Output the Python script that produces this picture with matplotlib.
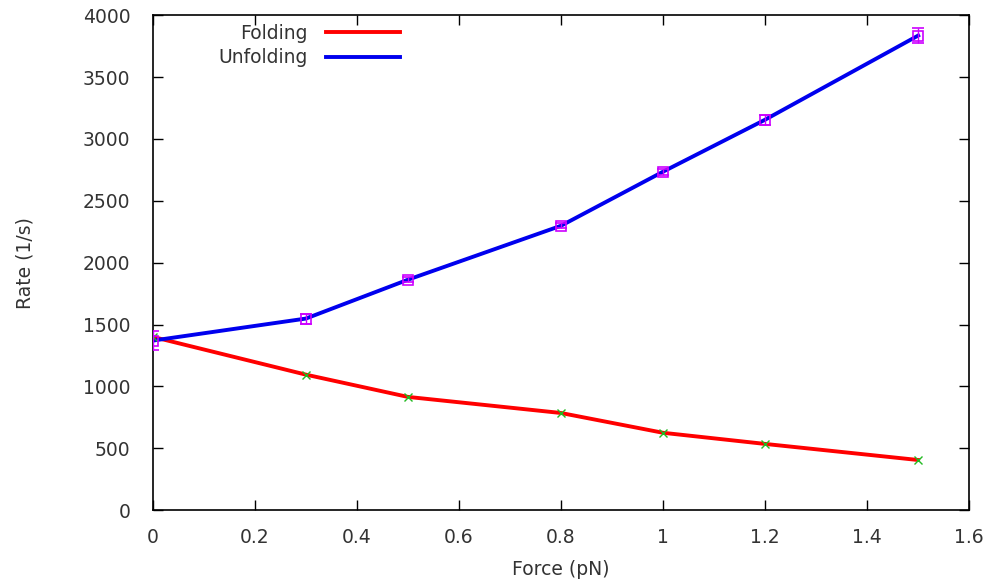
import numpy as np
import matplotlib.pyplot as plt

force = [0, 0.3, 0.5, 0.8, 1.0, 1.2, 1.5]
folding = [1400, 1095, 915, 785, 625, 535, 405]
unfolding = [1370, 1548, 1862, 2298, 2735, 3155, 3835]
unfolding_err = [80, 40, 20, 20, 25, 40, 60]

plt.rcParams['font.family'] = ['DejaVu Sans']
text_color = '#333333'
fs = 13.5

fig = plt.figure(figsize=(9.92, 5.83), dpi=100)
ax = fig.add_axes([0.154, 0.125, 0.823, 0.849])

ax.plot(force, folding, color='#ff0000', lw=2.8, label='Folding', zorder=2)
ax.plot(force, unfolding, color='#0000ee', lw=2.8, label='Unfolding', zorder=2)
ax.plot(force, folding, ls='none', marker='x', ms=6, mew=1, color='#22bb22', zorder=3)
ax.errorbar(force, unfolding, yerr=unfolding_err, fmt='s', ms=7, mfc='none',
            mec='#cc00ff', ecolor='#cc00ff', elinewidth=1, capsize=4, mew=1.2, zorder=3)

ax.set_xlim(0, 1.6)
ax.set_ylim(0, 4000)
ax.set_xticks(np.arange(0, 1.61, 0.2))
ax.set_xticklabels(['0', '0.2', '0.4', '0.6', '0.8', '1', '1.2', '1.4', '1.6'])
ax.set_yticks(np.arange(0, 4001, 500))
ax.tick_params(direction='in', top=True, right=True, length=7, width=1,
               labelsize=fs, labelcolor=text_color)
ax.tick_params(axis='y', pad=16)
ax.tick_params(axis='x', pad=13)
for s in ax.spines.values():
    s.set_linewidth(1.2)

ax.set_xlabel('Force (pN)', fontsize=fs, color=text_color)
ax.set_ylabel('Rate (1/s)', fontsize=fs, color=text_color)
ax.xaxis.set_label_coords(0.5, -0.1)
ax.yaxis.set_label_coords(-0.145, 0.5)

leg = ax.legend(loc='upper left', bbox_to_anchor=(0.08, 0.983), markerfirst=False,
                frameon=False, fontsize=fs, handlelength=3.95, handletextpad=1.0,
                labelspacing=0.3, borderpad=0, borderaxespad=0)
for t in leg.get_texts():
    t.set_color(text_color)
    t.set_ha('right')

fig.savefig('out.png', dpi=100)
